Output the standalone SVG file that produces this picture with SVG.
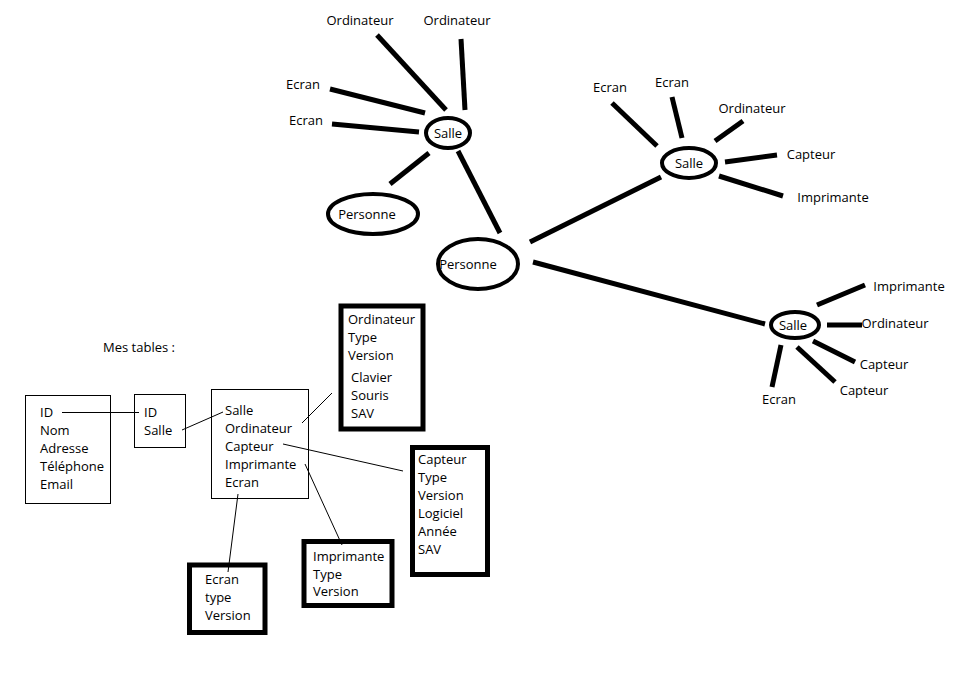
<svg xmlns="http://www.w3.org/2000/svg" width="960" height="673" viewBox="0 0 960 673">
<style>
text{font-family:"Open Sans","Liberation Sans",sans-serif;font-size:13px;fill:#000}
.c{text-anchor:middle}
.e{fill:#fff;stroke:#000;stroke-width:4}
.tl{stroke:#000;stroke-width:5;fill:none}
.thin{stroke:#000;stroke-width:1;fill:none}
.box{fill:none;stroke:#000;stroke-width:1}
.tbox{fill:none;stroke:#000;stroke-width:5}
</style>
<rect width="960" height="673" fill="#fff"/>
<g id="connectors">
<line class="tl" x1="377" y1="35" x2="446" y2="110"/>
<line class="tl" x1="461" y1="39" x2="465" y2="110"/>
<line class="tl" x1="330" y1="89" x2="425" y2="113"/>
<line class="tl" x1="332" y1="124" x2="419" y2="132"/>
<line class="tl" x1="429" y1="153" x2="390" y2="184"/>
<line class="tl" x1="458" y1="151" x2="500" y2="233"/>
<line class="tl" x1="661" y1="177" x2="530" y2="242"/>
<line class="tl" x1="612" y1="103" x2="657" y2="146"/>
<line class="tl" x1="672" y1="97" x2="682" y2="138"/>
<line class="tl" x1="743" y1="121" x2="715" y2="141"/>
<line class="tl" x1="777" y1="155" x2="725" y2="162"/>
<line class="tl" x1="783" y1="196" x2="719" y2="176"/>
<line class="tl" x1="533" y1="262" x2="765" y2="324"/>
<line class="tl" x1="817" y1="305" x2="865" y2="285"/>
<line class="tl" x1="827" y1="325" x2="862" y2="325"/>
<line class="tl" x1="813" y1="341" x2="855" y2="362"/>
<line class="tl" x1="797" y1="347" x2="835" y2="382"/>
<line class="tl" x1="781" y1="345" x2="772" y2="387"/>
<line class="thin" x1="62" y1="412.5" x2="139" y2="412.5"/>
<line class="thin" x1="182" y1="430" x2="223" y2="412"/>
<line class="thin" x1="302" y1="423" x2="332" y2="393"/>
<line class="thin" x1="283" y1="444" x2="403" y2="471"/>
<line class="thin" x1="305" y1="464" x2="342" y2="545"/>
<line class="thin" x1="238" y1="494" x2="228" y2="572"/>
</g>
<g id="lbl-top">
<text class="c" x="360" y="25">Ordinateur</text>
<text class="c" x="457" y="25">Ordinateur</text>
<text class="c" x="303" y="89">Ecran</text>
<text class="c" x="306" y="125">Ecran</text>
</g>
<g id="salle1"><ellipse class="e" cx="448" cy="133" rx="22" ry="15"/><text class="c" x="448" y="138">Salle</text></g>
<g id="personne1"><ellipse class="e" cx="373" cy="214" rx="45" ry="20"/><text class="c" x="367" y="219">Personne</text></g>
<g id="personne2"><ellipse class="e" cx="478" cy="264" rx="40" ry="25"/><text class="c" x="468" y="269">Personne</text></g>
<g id="salle2"><ellipse class="e" cx="689" cy="163" rx="27" ry="15"/><text class="c" x="689" y="168">Salle</text></g>
<g id="lbl-right">
<text class="c" x="610" y="92">Ecran</text>
<text class="c" x="672" y="87">Ecran</text>
<text class="c" x="752" y="113">Ordinateur</text>
<text class="c" x="811" y="159">Capteur</text>
<text class="c" x="833" y="202">Imprimante</text>
</g>
<g id="salle3"><ellipse class="e" cx="795" cy="325" rx="24" ry="13"/><text class="c" x="793" y="330">Salle</text></g>
<g id="lbl-br">
<text class="c" x="909" y="291">Imprimante</text>
<text class="c" x="895" y="328">Ordinateur</text>
<text class="c" x="884" y="369">Capteur</text>
<text class="c" x="864" y="395">Capteur</text>
<text class="c" x="779" y="404">Ecran</text>
</g>
<text class="c" x="139" y="352">Mes tables :</text>
<g id="t-personne"><rect class="box" x="25.5" y="395.5" width="85" height="108"/>
<text x="40" y="417">ID</text><text x="40" y="435">Nom</text><text x="40" y="453">Adresse</text><text x="40" y="471">Téléphone</text><text x="40" y="489">Email</text></g>
<g id="t-lien"><rect class="box" x="134.5" y="394.5" width="51" height="53"/>
<text x="144" y="417">ID</text><text x="144" y="435">Salle</text></g>
<g id="t-salle"><rect class="box" x="211.5" y="389.5" width="97" height="109"/>
<text x="225" y="415">Salle</text><text x="225" y="433">Ordinateur</text><text x="225" y="451">Capteur</text><text x="225" y="469">Imprimante</text><text x="225" y="487">Ecran</text></g>
<g id="t-ordinateur"><rect class="tbox" x="341" y="306" width="82" height="123"/>
<text x="348" y="324">Ordinateur</text><text x="348" y="342">Type</text><text x="348" y="360">Version</text><text x="351" y="382">Clavier</text><text x="351" y="400">Souris</text><text x="351" y="418">SAV</text></g>
<g id="t-capteur"><rect class="tbox" x="412.5" y="447.5" width="75" height="127"/>
<text x="418" y="464">Capteur</text><text x="418" y="482">Type</text><text x="418" y="500">Version</text><text x="418" y="518">Logiciel</text><text x="418" y="536">Année</text><text x="418" y="554">SAV</text></g>
<g id="t-imprimante"><rect class="tbox" x="304" y="541.5" width="88" height="64"/>
<text x="313" y="561">Imprimante</text><text x="313" y="579">Type</text><text x="313" y="596">Version</text></g>
<g id="t-ecran"><rect class="tbox" x="189.5" y="565" width="75.5" height="67.5"/>
<text x="205" y="584">Ecran</text><text x="205" y="602">type</text><text x="205" y="620">Version</text></g>
</svg>
